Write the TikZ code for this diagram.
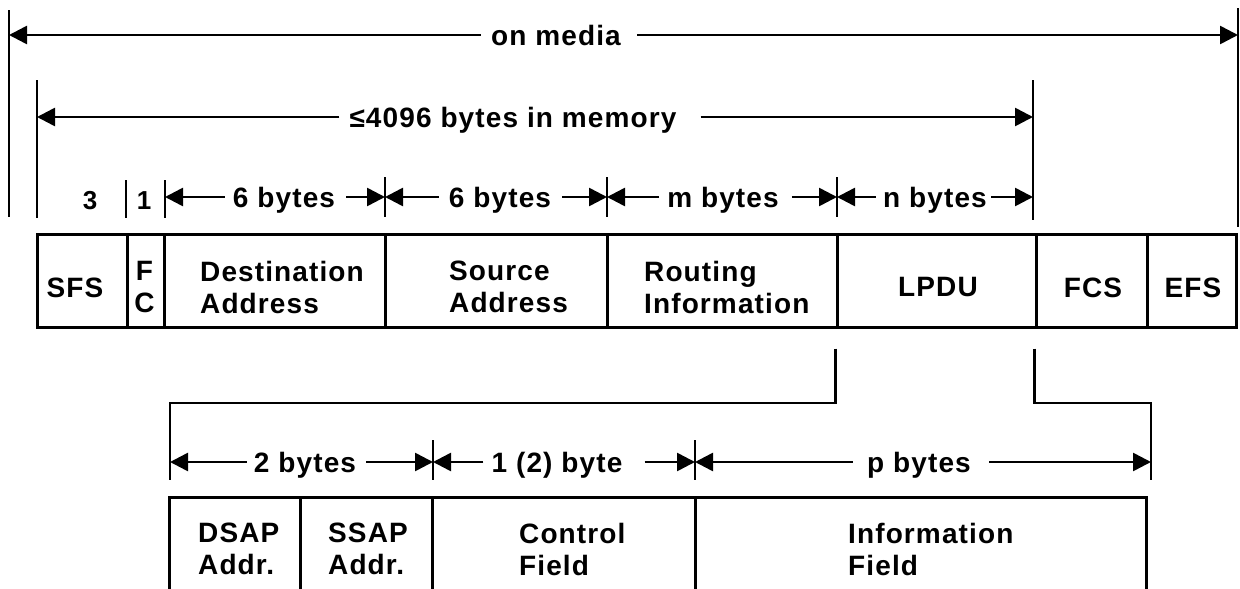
\documentclass[tikz,border=0pt]{standalone}
\usepackage{fontspec}
\newfontfamily\lblfont[LetterSpace=4]{Liberation Sans}
\usetikzlibrary{arrows.meta}
\begin{document}
\begin{tikzpicture}[x=1pt,y=-1pt,
  lab/.style={font=\lblfont\bfseries\fontsize{28}{32}\selectfont, inner sep=0pt, align=left},
  dlab/.style={font=\lblfont\bfseries\fontsize{28}{32}\selectfont, inner sep=0pt, text height=20pt, text depth=0pt},
  slab/.style={font=\lblfont\bfseries\fontsize{26}{30}\selectfont, inner sep=0pt},
  cell/.style={draw, line width=3pt, inner sep=0pt, minimum height=93pt},
  dim/.style={line width=2.6pt, -{Triangle[length=18pt,width=18pt]}},
  tick/.style={line width=2pt},
  conn/.style={line width=2.4pt},
  frame/.style={line width=3pt}]
\useasboundingbox (0,0) rectangle (1240,589);

% ---------- top frame cells ----------
\node[cell, minimum width=90pt]  (sfs)  at (82,280.5) {};
\node[cell, minimum width=37pt]  (fc)   at (145.5,280.5) {};
\node[cell, minimum width=221pt] (dst)  at (274.5,280.5) {};
\node[cell, minimum width=222pt] (src)  at (496,280.5) {};
\node[cell, minimum width=230pt] (rif)  at (722,280.5) {};
\node[cell, minimum width=199pt] (lpdu) at (936.5,280.5) {};
\node[cell, minimum width=111pt] (fcs)  at (1091.5,280.5) {};
\node[cell, minimum width=89pt]  (efs)  at (1191.5,280.5) {};

\node[lab] (sfsl) at (75,288) {SFS};
\node[lab, align=center] (fcl) at (144.5,287.5) {F\\C};
\node[lab, anchor=west] (dstl) at (200,287) {Destination\\Address};
\node[lab, anchor=west] (srcl) at (449,287) {Source\\Address};
\node[lab, anchor=west] (ril)  at (644,287) {Routing\\Information};
\node[lab] (lpdul) at (938,287) {LPDU};
\node[lab] (fcsl)  at (1093,288) {FCS};
\node[lab] (efsl)  at (1193,288) {EFS};

% ---------- ticks ----------
\draw[tick] (9,10) -- (9,217);
\draw[tick] (1238,8) -- (1238,227);
\draw[tick] (37,80) -- (37,218);
\draw[tick] (1033,80) -- (1033,220);
\draw[tick] (126,180) -- (126,218);
\draw[tick] (165,180) -- (165,218);
\draw[tick] (385,177) -- (385,217);
\draw[tick] (607,177) -- (607,217);
\draw[tick] (837,177) -- (837,217);
\draw[tick] (433,440) -- (433,480);
\draw[tick] (695,440) -- (695,480);

\coordinate (mL) at (9,35);    \coordinate (mR) at (1238,35);
\coordinate (yL) at (37,117);  \coordinate (yR) at (1033,117);
\coordinate (r0) at (165,197); \coordinate (r1) at (385,197);
\coordinate (r2) at (607,197); \coordinate (r3) at (837,197);
\coordinate (r4) at (1033,197);
\coordinate (s0) at (170,462); \coordinate (s1) at (433,462);
\coordinate (s2) at (695,462); \coordinate (s3) at (1151,462);

% ---------- dimension labels ----------
\node[dlab] (tMedia) at (556,35) {on media};
\node[dlab] (tMem)   at (513,117) {≤4096 bytes in memory};
\node[slab] (t3) at (90,201) {3};
\node[slab] (t1) at (144,201) {1};
\node[dlab] (tA) at (284,197) {6 bytes};
\node[dlab] (tB) at (500,197) {6 bytes};
\node[dlab] (tC) at (723,197) {m bytes};
\node[dlab] (tD) at (935,197) {n bytes};
\node[dlab] (tE) at (305,462) {2 bytes};
\node[dlab] (tF) at (557,462) {1 (2) byte};
\node[dlab] (tG) at (919,462) {p bytes};

% ---------- dimension arrows ----------
\draw[dim] ([xshift=-10pt]tMedia.west) -- (mL);
\draw[dim] ([xshift=16pt]tMedia.east) -- (mR);
\draw[dim] ([xshift=-10pt]tMem.west) -- (yL);
\draw[dim] ([xshift=24pt]tMem.east) -- (yR);
\draw[dim] ([xshift=-8pt]tA.west) -- (r0);
\draw[dim] ([xshift=11pt]tA.east) -- (r1);
\draw[dim] ([xshift=-10pt]tB.west) -- (r1);
\draw[dim] ([xshift=11pt]tB.east) -- (r2);
\draw[dim] ([xshift=-8pt]tC.west) -- (r2);
\draw[dim] ([xshift=13pt]tC.east) -- (r3);
\draw[dim] ([xshift=-7pt]tD.west) -- (r3);
\draw[dim] ([xshift=4pt]tD.east) -- (r4);
\draw[dim] ([xshift=-7pt]tE.west) -- (s0);
\draw[dim] ([xshift=10pt]tE.east) -- (s1);
\draw[dim] ([xshift=-8pt]tF.west) -- (s1);
\draw[dim] ([xshift=22pt]tF.east) -- (s2);
\draw[dim] ([xshift=-14pt]tG.west) -- (s2);
\draw[dim] ([xshift=18pt]tG.east) -- (s3);

% ---------- connectors from LPDU ----------
\coordinate (kL) at (170,403);
\coordinate (kR) at (1151,403);
\draw[conn] ([yshift=-20pt]lpdu.south west) |- (kL) -- (170,480);
\draw[conn] ([yshift=-20pt]fcs.south west) |- (kR) -- (1151,480);

% ---------- LLC frame (open at bottom) ----------
\coordinate (b0) at (169,497); \coordinate (b1) at (300,497);
\coordinate (b2) at (432,497); \coordinate (b3) at (695,497);
\coordinate (b4) at (1146,497);
\draw[frame] (169,592) -- (b0) -- (b4) -- (1146,592);
\draw[frame] (b1) -- (300,592);
\draw[frame] (b2) -- (432,592);
\draw[frame] (b3) -- (695,592);

\node[lab, anchor=west] (dsap) at (198,549) {DSAP\\Addr.};
\node[lab, anchor=west] (ssap) at (328,549) {SSAP\\Addr.};
\node[lab, anchor=west] (ctrl) at (519,549) {Control\\Field};
\node[lab, anchor=west] (info) at (848,549) {Information\\Field};
\end{tikzpicture}
\end{document}
